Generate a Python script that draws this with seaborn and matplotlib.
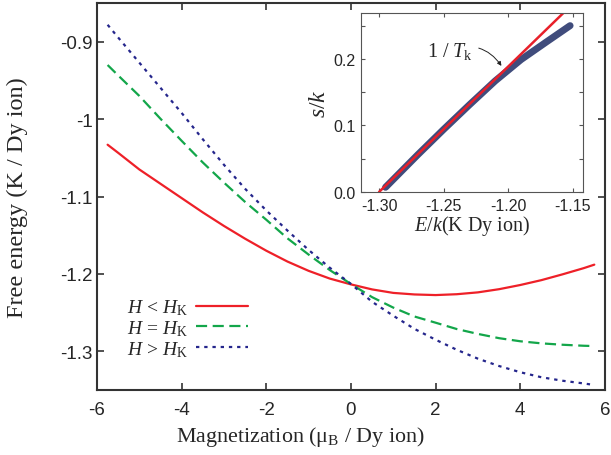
import numpy as np
import pandas as pd
import seaborn as sns
import matplotlib
matplotlib.use("Agg")
import matplotlib.pyplot as plt

# ---- data ----
magnetization = [-5.75, -5.5, -5.0, -4.5, -4.0, -3.5, -3.0, -2.5, -2.0, -1.5, -1.0, -0.5, 0.0,
                 0.5, 1.0, 1.5, 2.0, 2.5, 3.0, 3.5, 4.0, 4.5, 5.0, 5.5, 5.75]
f_below = [-1.033, -1.0435, -1.065, -1.0835, -1.102, -1.1205, -1.138, -1.1545, -1.170,
           -1.184, -1.196, -1.206, -1.2135, -1.220, -1.2245, -1.2265, -1.2273, -1.2262,
           -1.2238, -1.2197, -1.2143, -1.208, -1.2005, -1.1925, -1.188]
f_equal = [-0.930, -0.9435, -0.970, -0.9995, -1.028, -1.056, -1.082, -1.107, -1.130,
           -1.154, -1.175, -1.195, -1.213, -1.230, -1.2435, -1.255, -1.263, -1.2712,
           -1.2775, -1.283, -1.287, -1.2897, -1.2915, -1.2928, -1.2932]
f_above = [-0.878, -0.8945, -0.927, -0.9595, -0.992, -1.026, -1.059, -1.090, -1.118,
           -1.144, -1.169, -1.192, -1.213, -1.236, -1.254, -1.271, -1.285, -1.298,
           -1.3095, -1.319, -1.327, -1.3335, -1.338, -1.3415, -1.3435]
labels = [r'$H$ < $H_{\rm K}$', r'$H$ = $H_{\rm K}$', r'$H$ > $H_{\rm K}$']

# inset: entropy vs energy and the tangent 1/T_k
energy = [-1.295, -1.27, -1.25, -1.23, -1.21, -1.19, -1.17, -1.152]
entropy = [0.007, 0.056, 0.094, 0.131, 0.167, 0.199, 0.226, 0.250]
tangent_e = [-1.30, -1.1567]
tangent_s = [0.0, 0.270]

sns.set_style("ticks")
plt.rcParams['font.family'] = ['Liberation Sans', 'DejaVu Sans']
plt.rcParams['axes.unicode_minus'] = False
plt.rcParams['mathtext.fontset'] = 'custom'
plt.rcParams['mathtext.rm'] = 'Liberation Serif'
plt.rcParams['mathtext.it'] = 'Liberation Serif:italic'

fig = plt.figure(figsize=(6.11, 4.56), dpi=100)
ax = fig.add_axes([0.1588, 0.1425, 0.8312, 0.8485])

styles = [('#ee2028', '-'), ('#13a64a', (0, (5, 2.5))), ('#25268c', (0, (1.5, 2.2)))]
for vals, lab, (col, ls) in zip([f_below, f_equal, f_above], labels, styles):
    sns.lineplot(x=magnetization, y=vals, ax=ax, color=col, linestyle=ls,
                 linewidth=1.6, label=lab)

ax.set_xlim(-6, 6)
ax.set_ylim(-1.35, -0.85)
ax.set_xticks([-6, -4, -2, 0, 2, 4, 6])
ax.set_xticklabels(['-6', '-4', '-2', '0', '2', '4', '6'])
ax.set_yticks([-0.9, -1.0, -1.1, -1.2, -1.3])
ax.set_yticklabels(['-0.9', '-1', '-1.1', '-1.2', '-1.3'])
ax.tick_params(direction='in', top=True, right=True, length=5, width=1.2,
               labelsize=13.5, color='#333333')
ax.tick_params(axis='x', pad=8)
ax.tick_params(axis='y', pad=3)
for sp in ax.spines.values():
    sp.set_linewidth(1.5)
    sp.set_color('#333333')
ax.set_xlabel('Magnetization (μ$_{\\rm B}$ / Dy ion)', family='Liberation Serif',
              fontsize=15.8)
ax.xaxis.set_label_coords(0.40, -0.088)
ax.set_ylabel('Free energy (K / Dy ion)', family='Liberation Serif', fontsize=17.5)
ax.yaxis.set_label_coords(-0.136, 0.5)

ax.legend(loc='center left', bbox_to_anchor=(0.04, 0.160), frameon=False,
          markerfirst=False, handlelength=2.7, handletextpad=0.4,
          labelspacing=0.05, borderpad=0, prop={'family': 'Liberation Serif', 'size': 14})

# ---- inset ----
ins = fig.add_axes([0.5908, 0.5768, 0.3634, 0.3925])
sns.lineplot(x=energy, y=entropy, ax=ins, color='#404c7c', linewidth=5,
             solid_capstyle='round')
sns.lineplot(x=tangent_e, y=tangent_s, ax=ins, color='#e8202a', linewidth=1.8)
ins.set_xlim(-1.314, -1.142)
ins.set_ylim(0, 0.269)
ins.set_xticks([-1.30, -1.25, -1.20, -1.15])
ins.set_xticklabels(['-1.30', '-1.25', '-1.20', '-1.15'])
ins.set_yticks([0.0, 0.1, 0.2])
ins.set_yticklabels(['0.0', '0.1', '0.2'])
ins.set_yticks([0.05, 0.15, 0.25], minor=True)
ins.tick_params(which='both', direction='in', top=True, right=True, length=3,
                width=0.8, labelsize=11.5, pad=4, color='#555555')
for sp in ins.spines.values():
    sp.set_linewidth(0.8)
    sp.set_color('#555555')
ins.set_xlabel(r'$E/k$(K Dy ion)', family='Liberation Serif', fontsize=14.5, labelpad=0)
ins.set_ylabel(r'$s/k$', family='Liberation Serif', fontsize=17, labelpad=2)
ins.annotate(r'1 / $T_{\rm k}$', xy=(-1.204, 0.186), xytext=(-1.263, 0.205),
             fontsize=14.5, family='Liberation Serif',
             arrowprops=dict(arrowstyle='-|>', color='#222222', lw=0.7,
                             mutation_scale=6,
                             connectionstyle='arc3,rad=-0.4'))

fig.savefig('out.png', dpi=100)
